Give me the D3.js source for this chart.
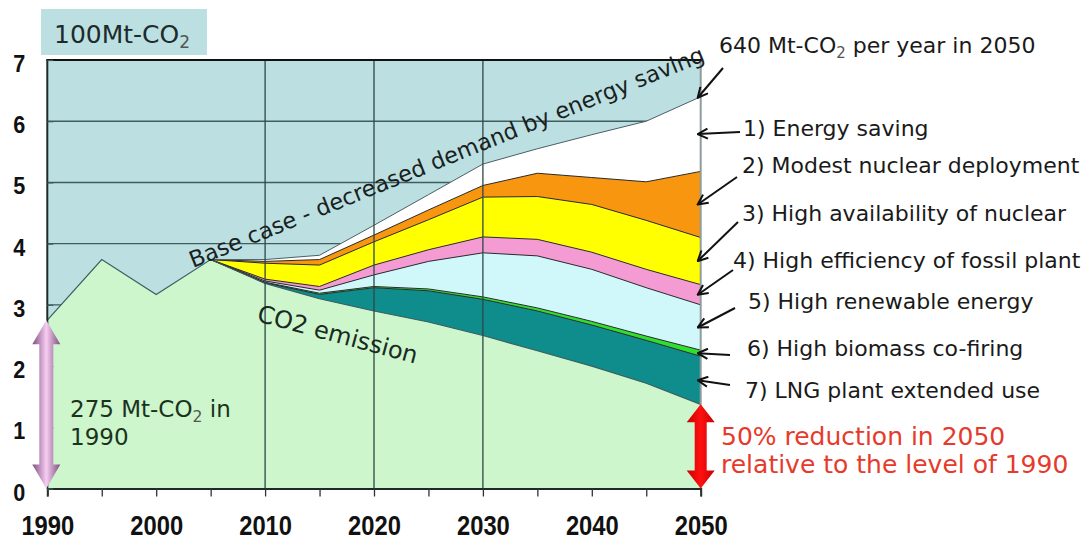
<!DOCTYPE html>
<html>
<head>
<meta charset="utf-8">
<script src="https://cdn.jsdelivr.net/npm/d3@7"></script>
<style>
  html, body { margin: 0; padding: 0; background: #ffffff; }
  svg { display: block; }
</style>
</head>
<body>
<svg id="chart" width="1090" height="539"></svg>
<script>
// CO2 emission from power generation, unit: 100 Mt-CO2 per year
const histYears    = [1990, 1995, 2000, 2005];
const histEmission = [2.75, 3.74, 3.17, 3.74];

const scenYears    = [2005, 2010, 2015, 2020, 2025, 2030, 2035, 2040, 2045, 2050];
const scenEmission = [3.74, 3.35, 3.10, 2.90, 2.72, 2.50, 2.25, 2.00, 1.72, 1.375];

// Reduction wedges stacked on top of the remaining emission (bottom to top)
const lngExtended   = [0, 0.01, 0.07, 0.38, 0.51, 0.59, 0.65, 0.67, 0.70, 0.785];
const biomassCofire = [0, 0.01, 0.02, 0.02, 0.03, 0.04, 0.05, 0.06, 0.07, 0.10];
const renewable     = [0, 0.02, 0.05, 0.19, 0.45, 0.72, 0.85, 0.85, 0.79, 0.74];
const fossilEff     = [0, 0.03, 0.06, 0.16, 0.19, 0.26, 0.27, 0.28, 0.30, 0.33];
const nuclearHigh   = [0, 0.26, 0.35, 0.38, 0.49, 0.65, 0.70, 0.78, 0.80, 0.77];
const nuclearModest = [0, 0.03, 0.09, 0.11, 0.16, 0.19, 0.38, 0.44, 0.63, 1.08];
const energySaving  = [0, 0.03, 0.07, 0.16, 0.25, 0.35, 0.40, 0.70, 0.99, 1.22];

const wedgeKeys   = ["lng", "biomass", "renewable", "fossil", "nuclearHigh", "nuclearModest", "saving"];
const wedgeLabels = [
  "7) LNG plant extended use",
  "6) High biomass co-firing",
  "5) High renewable energy",
  "4) High efficiency of fossil plant",
  "3) High availability of nuclear",
  "2) Modest nuclear deployment",
  "1) Energy saving"
];

const xTickYears  = [1990, 1995, 2000, 2005, 2010, 2015, 2020, 2025, 2030, 2035, 2040, 2045, 2050];
const xGridYears  = [2010, 2020, 2030];
const yTickValues = [0, 1, 2, 3, 4, 5, 6, 7];

// ---- styles and layout ----
const wedgeColors = {
  lng: "#0f8d8d", biomass: "#2ee02e", renewable: "#d0f8fb", fossil: "#f59bd3",
  nuclearHigh: "#ffff00", nuclearModest: "#f8960f", saving: "#ffffff"
};
const plotBg = "#bcdfe2";
const emissionFill = "#cdf6cd";
const textFont = "'DejaVu Sans', Verdana, sans-serif";

// label anchor (text) and arrow tail positions for the wedge labels, same order as wedgeLabels
const wedgeLabelLayout = [
  { tx: 745, ty: 398, ax: 730, ay: 385 },
  { tx: 747, ty: 356, ax: 730, ay: 355 },
  { tx: 748, ty: 309, ax: 735, ay: 308 },
  { tx: 733, ty: 268, ax: 733, ay: 270 },
  { tx: 742, ty: 221, ax: 738, ay: 222 },
  { tx: 742, ty: 173, ax: 737, ay: 177 },
  { tx: 743, ty: 136, ax: 740, ay: 132 }
];

const svg = d3.select("#chart");
const x = d3.scaleLinear().domain([1990, 2050]).range([47.3, 700.7]);
const y = d3.scaleLinear().domain([0, 7]).range([488.5, 60]);

// stacked table: emission is the base, wedges on top
const wedgeArrays = [lngExtended, biomassCofire, renewable, fossilEff, nuclearHigh, nuclearModest, energySaving];
const table = scenYears.map((yr, i) => {
  const row = { year: yr, emission: scenEmission[i] };
  wedgeKeys.forEach((k, j) => { row[k] = wedgeArrays[j][i]; });
  return row;
});
const series = d3.stack().keys(["emission"].concat(wedgeKeys))(table);
const wedgeSeries = series.slice(1);

const emissionYears = histYears.slice(0, -1).concat(scenYears);
const emissionVals  = histEmission.slice(0, -1).concat(scenEmission);
const emissionPts = emissionYears.map((yr, i) => ({ year: yr, v: emissionVals[i] }));

// ---- defs ----
const defs = svg.append("defs");
const marker = defs.append("marker")
  .attr("id", "head").attr("viewBox", "0 0 12 12")
  .attr("refX", 11).attr("refY", 6)
  .attr("markerWidth", 12).attr("markerHeight", 12)
  .attr("markerUnits", "userSpaceOnUse").attr("orient", "auto");
marker.append("path").attr("d", "M1,1 L11,6 L1,11")
  .attr("fill", "none").attr("stroke", "#111").attr("stroke-width", 2);

const purpleGrad = defs.append("linearGradient").attr("id", "purpleGrad")
  .attr("x1", "0").attr("x2", "1").attr("y1", "0").attr("y2", "0");
purpleGrad.append("stop").attr("offset", "0").attr("stop-color", "#7d4f7d");
purpleGrad.append("stop").attr("offset", "0.5").attr("stop-color", "#f7cdf2");
purpleGrad.append("stop").attr("offset", "1").attr("stop-color", "#7d4f7d");

const redGrad = defs.append("linearGradient").attr("id", "redGrad")
  .attr("x1", "0").attr("x2", "1").attr("y1", "0").attr("y2", "0");
redGrad.append("stop").attr("offset", "0").attr("stop-color", "#c80000");
redGrad.append("stop").attr("offset", "0.5").attr("stop-color", "#ff1010");
redGrad.append("stop").attr("offset", "1").attr("stop-color", "#c80000");

// ---- plot background and horizontal grid ----
svg.append("rect")
  .attr("x", x(1990)).attr("y", y(7))
  .attr("width", x(2050) - x(1990)).attr("height", y(0) - y(7))
  .attr("fill", plotBg);

svg.append("g").selectAll("line").data([1, 2, 3, 4, 5, 6]).join("line")
  .attr("x1", x(1990)).attr("x2", x(2050))
  .attr("y1", d => y(d)).attr("y2", d => y(d))
  .attr("stroke", "#3f5d5f").attr("stroke-width", 1.4);

// ---- emission area ----
svg.append("path").datum(emissionPts)
  .attr("d", d3.area().x(d => x(d.year)).y0(y(0)).y1(d => y(d.v)))
  .attr("fill", emissionFill);

// ---- reduction wedges ----
const area = d3.area()
  .x(d => x(d.data.year)).y0(d => y(d[0])).y1(d => y(d[1]));
svg.append("g").selectAll("path").data(wedgeSeries).join("path")
  .attr("d", area)
  .attr("fill", d => wedgeColors[d.key]);

const topLine = d3.line().x(d => x(d.data.year)).y(d => y(d[1]));
svg.append("g").selectAll("path").data(wedgeSeries).join("path")
  .attr("d", topLine)
  .attr("fill", "none")
  .attr("stroke", d => d.key === "saving" ? "#4a5f66" : "#2a2a2a")
  .attr("stroke-width", 1);

svg.append("path").datum(emissionPts)
  .attr("d", d3.line().x(d => x(d.year)).y(d => y(d.v)))
  .attr("fill", "none").attr("stroke", "#3b5f5f").attr("stroke-width", 1.2);

// ---- vertical grid and frame ----
svg.append("g").selectAll("line").data(xGridYears).join("line")
  .attr("x1", d => x(d)).attr("x2", d => x(d))
  .attr("y1", y(7)).attr("y2", y(0))
  .attr("stroke", "#2e4646").attr("stroke-width", 1.3);

svg.append("line")
  .attr("x1", x(2050)).attr("x2", x(2050)).attr("y1", y(7)).attr("y2", y(0))
  .attr("stroke", "#8e9c9c").attr("stroke-width", 2);
svg.append("line")
  .attr("x1", x(1990) - 1).attr("x2", x(2050) + 1).attr("y1", y(7)).attr("y2", y(7))
  .attr("stroke", "#111").attr("stroke-width", 2);
svg.append("line")
  .attr("x1", x(1990)).attr("x2", x(1990)).attr("y1", y(7)).attr("y2", y(0))
  .attr("stroke", "#1e2a2a").attr("stroke-width", 2);

// ---- axes ----
const xAxis = svg.append("g")
  .attr("transform", `translate(0,${y(0)})`)
  .call(d3.axisBottom(x).tickValues(xTickYears).tickSize(8)
    .tickFormat(d => (d % 10 === 0 ? String(d) : "")));
xAxis.select(".domain").attr("stroke", "#1e2a2a").attr("stroke-width", 2);
xAxis.selectAll(".tick line").attr("stroke", "#333").attr("stroke-width", 1.3);
xAxis.selectAll(".tick text")
  .attr("y", 0).attr("dy", null)
  .attr("transform", "translate(0,46.5) scale(0.88,1)")
  .attr("fill", "#111")
  .style("font-family", "'Liberation Sans', Arial, sans-serif")
  .style("font-size", "27px").style("font-weight", "bold");

const yAxis = svg.append("g")
  .attr("transform", `translate(${x(1990)},0)`)
  .call(d3.axisLeft(y).tickValues(yTickValues).tickSize(-6).tickFormat(d3.format("d")));
yAxis.select(".domain").remove();
yAxis.selectAll(".tick line").attr("stroke", "#3f5d5f").attr("stroke-width", 1.2);
yAxis.selectAll(".tick text")
  .attr("x", 0).attr("dy", null).attr("text-anchor", "middle")
  .attr("transform", "translate(-28,11.5) scale(0.9,1)")
  .attr("fill", "#111")
  .style("font-family", "'Liberation Sans', Arial, sans-serif")
  .style("font-size", "24px").style("font-weight", "bold");

// ---- text helpers ----
function richText(parent, parts, attrs) {
  const t = parent.append("text");
  Object.entries(attrs).forEach(([k, v]) => t.attr(k, v));
  let shifted = false;
  parts.forEach(p => {
    const s = t.append("tspan").text(p.t);
    if (p.sub) {
      s.attr("dy", 5).style("font-size", "0.68em").attr("fill", "#555");
      shifted = true;
    } else if (shifted) {
      s.attr("dy", -5);
      shifted = false;
    }
  });
  return t;
}

// unit box
svg.append("rect").attr("x", 41).attr("y", 9).attr("width", 166).attr("height", 46)
  .attr("fill", plotBg);
richText(svg, [{ t: "100Mt-CO" }, { t: "2", sub: true }], {
  x: 54, y: 43, fill: "#1c2b2b", "font-family": textFont, "font-size": 25
});

// rotated annotations inside the plot
svg.append("text")
  .attr("transform", "translate(193,268) rotate(-22)")
  .attr("font-family", textFont).attr("font-size", 22.5).attr("fill", "#1a1f22")
  .text("Base case - decreased demand by energy saving");

svg.append("text")
  .attr("transform", "translate(256,321) rotate(15)")
  .attr("font-family", textFont).attr("font-size", 24).attr("fill", "#1a2a22")
  .text("CO2 emission");

// 1990 level label
const lbl1990 = svg.append("g").attr("font-family", textFont).attr("font-size", 23).attr("fill", "#1c321c");
richText(lbl1990, [{ t: "275 Mt-CO" }, { t: "2", sub: true }, { t: " in" }], { x: 70, y: 417 });
lbl1990.append("text").attr("x", 70).attr("y", 445).text("1990");

// double-headed arrows spanning from zero to a level
function doubleArrow(cx, yTop, yBot, shaftHalf, headHalf, headLen, fill) {
  const p = d3.path();
  p.moveTo(cx, yTop);
  p.lineTo(cx + headHalf, yTop + headLen);
  p.lineTo(cx + shaftHalf, yTop + headLen);
  p.lineTo(cx + shaftHalf, yBot - headLen);
  p.lineTo(cx + headHalf, yBot - headLen);
  p.lineTo(cx, yBot);
  p.lineTo(cx - headHalf, yBot - headLen);
  p.lineTo(cx - shaftHalf, yBot - headLen);
  p.lineTo(cx - shaftHalf, yTop + headLen);
  p.lineTo(cx - headHalf, yTop + headLen);
  p.closePath();
  svg.append("path").attr("d", p.toString()).attr("fill", fill);
}
doubleArrow(x(1990) - 1, y(histEmission[0]), y(0), 7, 14, 24, "url(#purpleGrad)");
doubleArrow(x(2050), y(scenEmission[scenEmission.length - 1]), y(0), 6, 14, 18, "url(#redGrad)");

// reduction target label
const red = svg.append("g").attr("font-family", textFont).attr("font-size", 25).attr("fill", "#e63a2c");
red.append("text").attr("x", 721).attr("y", 445).text("50% reduction in 2050");
red.append("text").attr("x", 721).attr("y", 473).text("relative to the level of 1990");

// base-case level in 2050
const last = scenYears.length - 1;
const topSeries = wedgeSeries[wedgeSeries.length - 1];
richText(svg, [{ t: "640 Mt-CO" }, { t: "2", sub: true }, { t: " per year in 2050" }], {
  x: 719, y: 53, fill: "#1a1a1a", "font-family": textFont, "font-size": 22
});
svg.append("line")
  .attr("x1", 723).attr("y1", 68)
  .attr("x2", x(2050) - 3).attr("y2", y(topSeries[last][1]) + 1)
  .attr("stroke", "#111").attr("stroke-width", 2).attr("marker-end", "url(#head)");

// wedge labels with arrows to the middle of each wedge in 2050
const labelG = svg.append("g").attr("font-family", textFont).attr("font-size", 22).attr("fill", "#1a1a1a");
wedgeSeries.forEach((s, i) => {
  const L = wedgeLabelLayout[i];
  const mid = (s[last][0] + s[last][1]) / 2;
  labelG.append("text").attr("x", L.tx).attr("y", L.ty).text(wedgeLabels[i]);
  svg.append("line")
    .attr("x1", L.ax).attr("y1", L.ay)
    .attr("x2", x(2050) - 3).attr("y2", y(mid))
    .attr("stroke", "#111").attr("stroke-width", 2).attr("marker-end", "url(#head)");
});
</script>
</body>
</html>
